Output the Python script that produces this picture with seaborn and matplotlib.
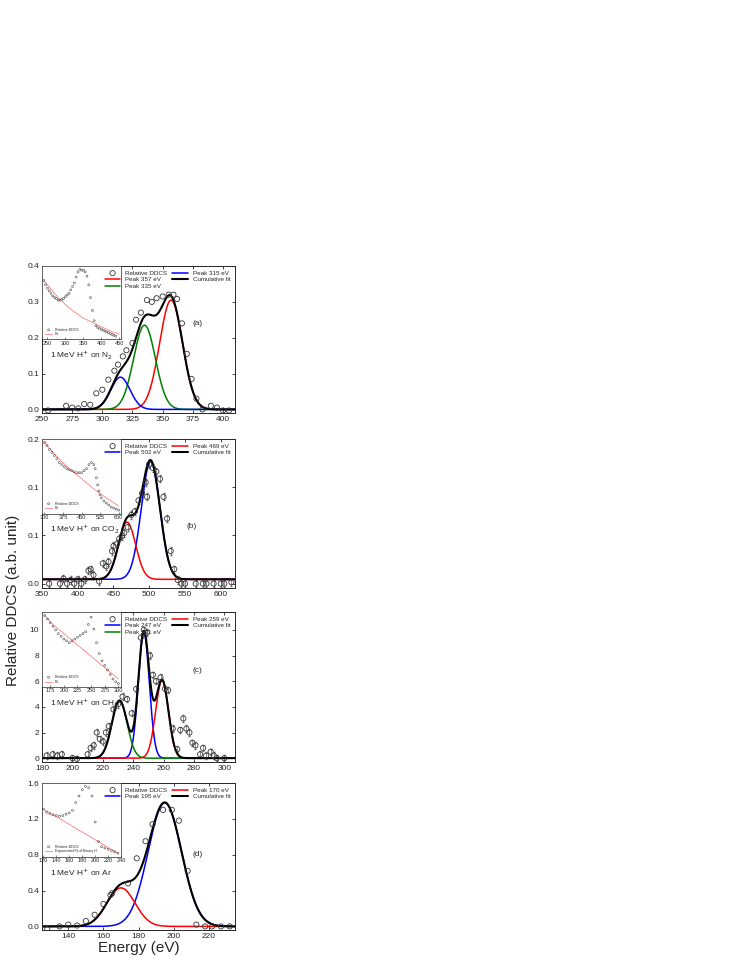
import numpy as np
import matplotlib
matplotlib.use("Agg")
import matplotlib.pyplot as plt
import seaborn as sns

sns.set_theme(style="ticks")
plt.rcParams['font.family'] = ['Liberation Sans', 'DejaVu Sans']

# ---------------- data ----------------
a_x = [255,270,275,280,285,290,295,300,305,310,313,317,320,325,328,332,337,341,345,350,355,359,362,366,370,374,378,383,390,395,400,405]
a_y = [-0.003,0.01,0.005,0.003,0.015,0.013,0.045,0.055,0.083,0.108,0.125,0.148,0.165,0.185,0.25,0.27,0.305,0.3,0.31,0.315,0.32,0.32,0.308,0.24,0.155,0.085,0.03,0.0,0.01,0.005,-0.003,-0.003]
a_pk_c = [357, 335, 315]; a_pk_h = [0.305, 0.235, 0.09]; a_pk_s = [9.5, 9.0, 8.0]
a_pk_lab = ["Peak 357 eV", "Peak 335 eV", "Peak 315 eV"]
a_pk_col = ["red", "green", "blue"]

b_x = [360,375,380,385,390,395,400,405,410,415,418,422,430,435,440,443,448,450,455,458,462,465,470,475,480,485,490,495,497,500,505,510,515,520,525,530,535,540,545,550,565,575,580,590,600,605,615]
b_y = [0.0,0.0,0.007,0.0,0.005,0.0,0.006,0.0,0.006,0.018,0.02,0.012,0.003,0.028,0.024,0.03,0.045,0.052,0.055,0.062,0.066,0.07,0.078,0.095,0.1,0.115,0.125,0.14,0.12,0.165,0.16,0.155,0.145,0.12,0.09,0.045,0.02,0.005,0.0,0.0,0.0,0.0,0.0,0.0,0.0,0.0,0.002]
b_pk_c = [502, 469]; b_pk_h = [0.163, 0.079]; b_pk_s = [13.0, 12.0]
b_pk_lab = ["Peak 502 eV", "Peak 469 eV"]
b_pk_col = ["blue", "red"]
b_base = 0.006

c_x = [183,187,190,193,200,203,210,212,214,216,218,220,222,224,227,230,233,236,239,242,245,247,249,251,253,255,258,261,263,266,269,271,273,275,277,279,281,284,286,288,291,293,295,300]
c_y = [0.2,0.3,0.2,0.3,0.0,-0.05,0.3,0.8,1.0,2.0,1.5,1.3,2.0,2.5,3.8,4.2,4.8,4.6,3.5,5.4,9.4,10.0,9.8,8.0,6.5,6.0,6.3,5.4,5.3,2.3,0.7,2.2,3.1,2.3,2.0,1.2,1.0,0.3,0.8,0.2,0.5,0.2,0.0,0.0]
c_pk_c = [247, 231, 259]; c_pk_h = [9.8, 4.5, 6.1]; c_pk_s = [3.6, 5.0, 4.2]
c_pk_lab = ["Peak 247 eV", "Peak 231 eV", "Peak 259 eV"]
c_pk_col = ["blue", "green", "red"]

d_x = [128,135,140,145,150,155,160,164,165,174,179,184,188,194,199,203,208,213,218,222,227,232]
d_y = [-0.03,0.0,0.02,0.01,0.06,0.13,0.25,0.35,0.37,0.48,0.76,0.95,1.14,1.3,1.3,1.18,0.62,0.02,0.0,0.0,0.0,0.0]
d_pk_c = [195, 170]; d_pk_h = [1.38, 0.43]; d_pk_s = [9.5, 8.0]
d_pk_lab = ["Peak 195 eV", "Peak 170 eV"]
d_pk_col = ["blue", "red"]

# inset data
ia_x = [240,245,250,255,260,265,270,275,280,285,290,295,300,305,310,315,320,325,330,335,340,345,350,355,360,365,370,375,380,385,390,395,400,405,410,415,420,425,430,435,440]
ia_y = [0.95,0.9,0.86,0.83,0.8,0.77,0.75,0.74,0.72,0.72,0.73,0.74,0.76,0.78,0.8,0.84,0.88,0.92,0.99,1.05,1.08,1.07,1.07,1.05,1.0,0.9,0.75,0.6,0.48,0.42,0.4,0.39,0.38,0.37,0.36,0.35,0.34,0.33,0.32,0.31,0.3]
ia_fx = [240,250,260,270,280,290,300,310,320,330,340,350,360,370,380,390,400,410,420,430,440,450]
ia_fit = [0.95,0.9,0.85,0.8,0.75,0.71,0.67,0.63,0.6,0.57,0.54,0.51,0.49,0.47,0.45,0.43,0.41,0.39,0.37,0.35,0.34,0.32]

ib_x = [300,310,320,330,340,350,360,370,380,390,400,410,420,430,440,450,460,470,480,490,500,505,510,515,520,525,530,540,550,560,570,580,590,600]
ib_y = [1.0,0.97,0.93,0.9,0.87,0.84,0.8,0.78,0.76,0.74,0.73,0.72,0.71,0.7,0.7,0.7,0.72,0.74,0.78,0.8,0.78,0.74,0.65,0.58,0.52,0.48,0.45,0.42,0.4,0.38,0.36,0.35,0.34,0.33]
ib_fx = [300,350,400,450,500,550,600]
ib_fit = [1.0,0.86,0.74,0.64,0.54,0.45,0.37]

ic_x = [165,170,175,180,185,190,195,200,205,210,215,220,225,230,235,240,245,250,255,260,265,270,275,280,285,290,295,300]
ic_y = [1.0,0.96,0.92,0.88,0.84,0.8,0.77,0.74,0.72,0.7,0.72,0.74,0.76,0.78,0.8,0.82,0.9,0.98,0.85,0.7,0.58,0.5,0.45,0.4,0.35,0.3,0.27,0.25]
ic_fx = [165,180,200,220,240,260,280,300]
ic_fit = [1.0,0.9,0.8,0.7,0.6,0.5,0.4,0.3]

id_x = [120,125,130,135,140,145,150,155,160,165,170,175,180,185,190,195,200,205,210,215,220,225,230,235]
id_y = [1.0,0.95,0.93,0.91,0.9,0.89,0.9,0.92,0.94,0.98,1.1,1.2,1.3,1.35,1.33,1.2,0.8,0.5,0.42,0.4,0.38,0.36,0.34,0.32]
id_fx = [120,235]
id_fit = [1.0,0.32]

panels = [
    dict(x=a_x, y=a_y, c=a_pk_c, h=a_pk_h, s=a_pk_s, lab=a_pk_lab, col=a_pk_col, base=0.0,
         xlim=(250, 410), ylim=(-0.01, 0.4), yt=[0, 0.1, 0.2, 0.3, 0.4], yfmt="%.1f", xt=[250,275,300,325,350,375,400],
         tag="(a)", tagpos=(0.78, 0.6), gas="N$_2$", err=None,
         ix=ia_x, iy=ia_y, ifx=ia_fx, ify=ia_fit, ixt=[250,300,350,400,450], ixlim=(235,455),
         ileg=["Relative DDCS", "Fit"]),
    dict(x=b_x, y=b_y, c=b_pk_c, h=b_pk_h, s=b_pk_s, lab=b_pk_lab, col=b_pk_col, base=b_base,
         xlim=(350, 620), ylim=(-0.006, 0.2), yt=list(np.linspace(0, 0.2, 4)), yfmt="%.1f", xt=[350,400,450,500,550,600],
         tag="(b)", tagpos=(0.75, 0.4), gas="CO$_2$", err=0.005,
         ix=ib_x, iy=ib_y, ifx=ib_fx, ify=ib_fit, ixt=[300,375,450,525,600], ixlim=(290,610),
         ileg=["Relative DDCS", "Fit"]),
    dict(x=c_x, y=c_y, c=c_pk_c, h=c_pk_h, s=c_pk_s, lab=c_pk_lab, col=c_pk_col, base=0.0,
         xlim=(180, 307), ylim=(-0.3, 11.4), yt=[0,2,4,6,8,10], yfmt="%d", xt=[180,200,220,240,260,280,300],
         tag="(c)", tagpos=(0.78, 0.6), gas="CH$_4$", err=0.25,
         ix=ic_x, iy=ic_y, ifx=ic_fx, ify=ic_fit, ixt=[175,200,225,250,275,300], ixlim=(160,305),
         ileg=["Relative DDCS", "Fit"]),
    dict(x=d_x, y=d_y, c=d_pk_c, h=d_pk_h, s=d_pk_s, lab=d_pk_lab, col=d_pk_col, base=0.0,
         xlim=(125, 235), ylim=(-0.04, 1.6), yt=[0,0.4,0.8,1.2,1.6], yfmt="%.1f", xt=[140,160,180,200,220],
         tag="(d)", tagpos=(0.78, 0.5), gas="Ar", err=None,
         ix=id_x, iy=id_y, ifx=id_fx, ify=id_fit, ixt=[120,140,160,180,200,220,240], ixlim=(118,240),
         ileg=["Relative DDCS", "Exponential Fit of Binary H"]),
]

W, H = 747, 967
fig = plt.figure(figsize=(W/100, H/100), dpi=100)
rects = [(266, 413), (439, 588), (612, 762), (783, 930)]
x0, x1 = 42, 235

for p, (t, b) in zip(panels, rects):
    ax = fig.add_axes([x0/W, 1-b/H, (x1-x0)/W, (b-t)/H])
    xx = np.linspace(p["xlim"][0], p["xlim"][1], 600)
    if p["err"] is not None:
        ax.errorbar(p["x"], p["y"], yerr=p["err"], fmt="none", ecolor="0.4", elinewidth=0.5, capsize=1, zorder=2)
    sns.scatterplot(x=p["x"], y=p["y"], ax=ax, marker="o", s=14, facecolor="none",
                    edgecolor="0.2", linewidth=0.6, label="Relative DDCS", zorder=3, legend=False)
    total = np.full_like(xx, p["base"])
    for c, h, s, lab, col in zip(p["c"], p["h"], p["s"], p["lab"], p["col"]):
        g = p["base"] + h*np.exp(-0.5*((xx-c)/s)**2)
        total += g - p["base"]
        sns.lineplot(x=xx, y=g, ax=ax, color=col, lw=1.1, label=lab, legend=False)
    sns.lineplot(x=xx, y=total, ax=ax, color="black", lw=1.5, label="Cumulative fit", legend=False)
    ax.set_xlim(*p["xlim"]); ax.set_ylim(*p["ylim"])
    ax.set_xticks(p["xt"]); ax.set_yticks(p["yt"])
    ax.yaxis.set_major_formatter(matplotlib.ticker.FormatStrFormatter(p["yfmt"]))
    ax.tick_params(labelsize=6, direction="in", length=2.5, width=0.6, top=True, right=True, pad=2)
    for sp in ax.spines.values():
        sp.set_linewidth(0.7)
    h_, l_ = ax.get_legend_handles_labels()
    ax.legend(h_, l_, loc="upper right", fontsize=4.5, frameon=False, ncol=2, handlelength=2.5,
              columnspacing=0.8, borderaxespad=0.3, labelspacing=0.2)
    ax.text(p["tagpos"][0], p["tagpos"][1], p["tag"], transform=ax.transAxes, fontsize=6)
    ax.text(0.04, 0.37, "1 MeV H$^{+}$ on " + p["gas"], transform=ax.transAxes, fontsize=6)
    ax.set_xlabel(""); ax.set_ylabel("")
    # inset
    iax = ax.inset_axes([0.0, 0.5, 0.41, 0.5])
    iax.scatter(p["ix"], p["iy"], s=2, marker="o", facecolor="none", edgecolor="0.3", linewidth=0.4, label=p["ileg"][0])
    iax.plot(p["ifx"], p["ify"], color="red", lw=0.5, alpha=0.6, label=p["ileg"][1])
    iax.set_xlim(*p["ixlim"])
    iax.set_xticks(p["ixt"]); iax.set_yticks([])
    iax.tick_params(labelsize=4, direction="in", length=1.5, width=0.4, pad=1)
    for sp in iax.spines.values():
        sp.set_linewidth(0.5)
    iax.legend(loc="lower left", fontsize=2.5, frameon=False, handlelength=2, labelspacing=0.2)

ax.set_xlabel("Energy (eV)", fontsize=11, labelpad=1)
fig.text(13/W, 1-600/H, "Relative DDCS (a.b. unit)", rotation=90, fontsize=11, va="center", ha="center")

fig.savefig("out.png", dpi=100)
